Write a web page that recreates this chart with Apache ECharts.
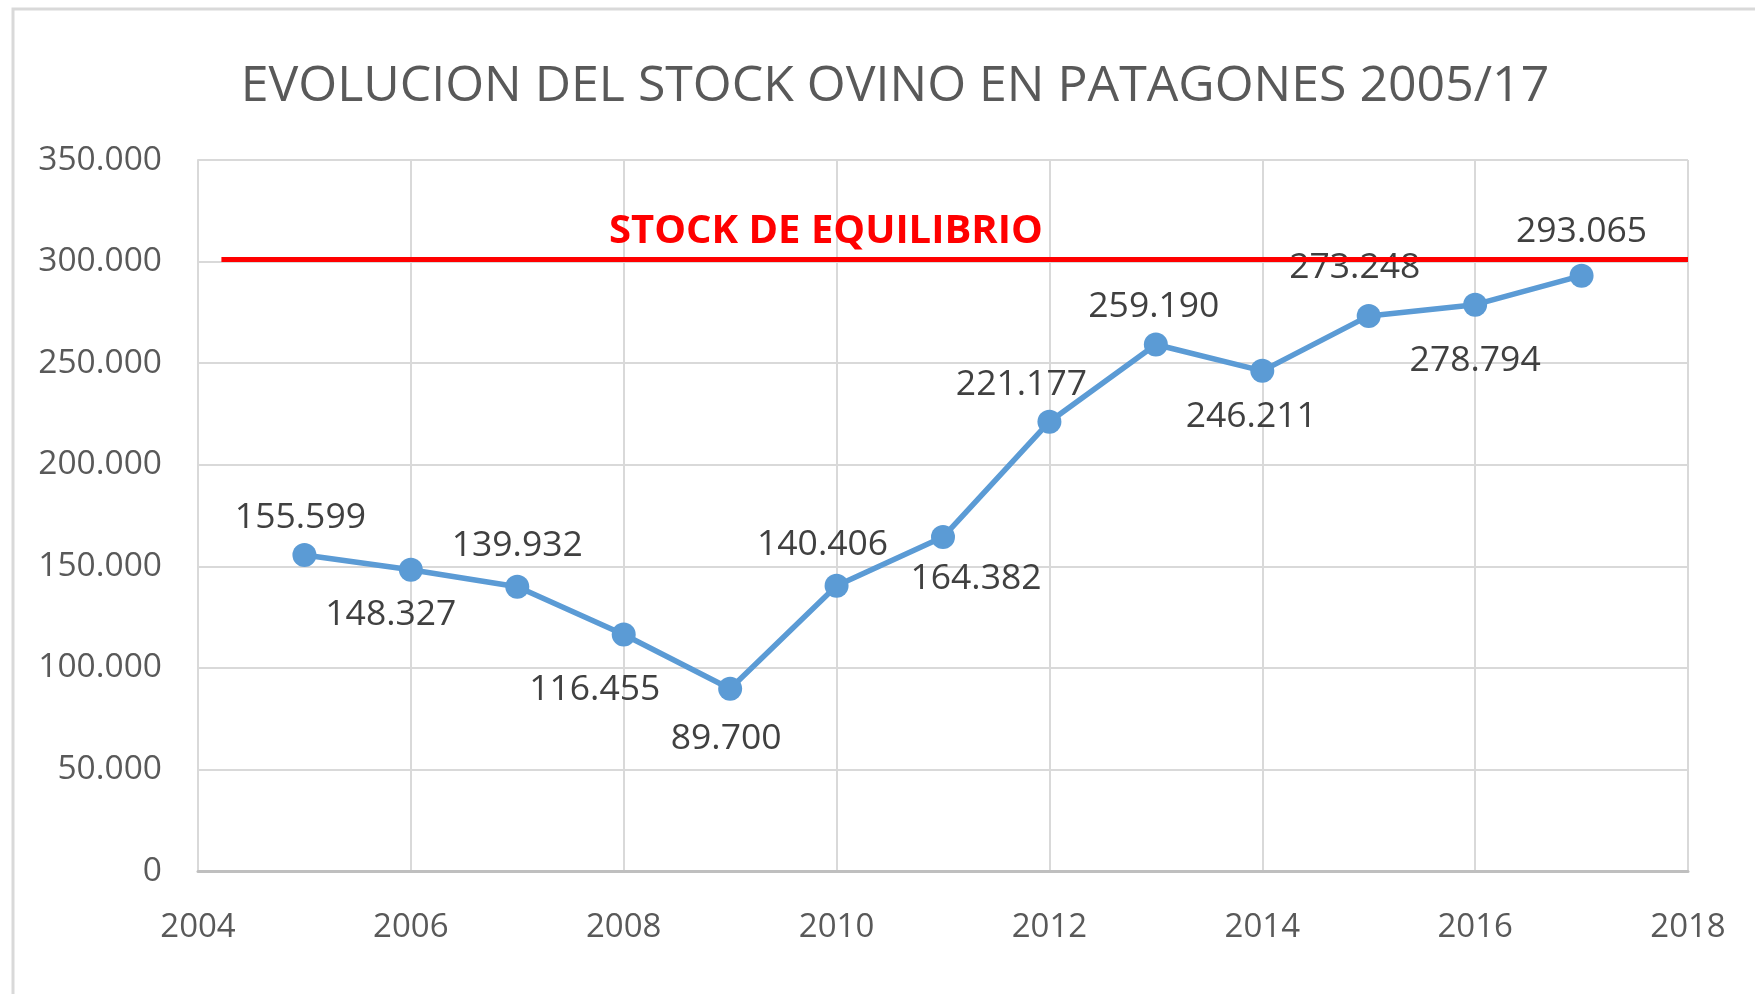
<!DOCTYPE html>
<html>
<head>
<meta charset="utf-8">
<script src="https://cdn.jsdelivr.net/npm/echarts@6/dist/echarts.min.js"></script>
<style>
  html, body { margin: 0; padding: 0; background: #fff; }
  #chart { width: 1755px; height: 994px; }
</style>
</head>
<body>
<div id="chart"></div>
<script>
const years = [2005, 2006, 2007, 2008, 2009, 2010, 2011, 2012, 2013, 2014, 2015, 2016, 2017]
const stock = [155599, 148327, 139932, 116455, 89700, 140406, 164382, 221177, 259190, 246211, 273248, 278794, 293065]
const equilibrium = 301000
const equilibriumLabel = 'STOCK DE EQUILIBRIO'
const titleText = 'EVOLUCION DEL STOCK OVINO EN PATAGONES 2005/17'

// label placement per point: side, then small [dx, dy] nudge in px
const labelSide = ['top', 'bottom', 'top', 'bottom', 'bottom', 'top', 'bottom', 'top', 'top', 'bottom', 'top', 'bottom', 'top']
const labelNudge = [[-4, 3], [-20, -3], [0, -1], [-29, 7], [-4, 2], [-14, -1], [33, -6], [-28, 3], [-2, 2], [-11, -2], [-14, -8], [0, 8], [0, -4]]

const FONT = '"Open Sans", sans-serif'

function fmtThousands(v) {
  return String(Math.round(v)).replace(/\B(?=(\d{3})+(?!\d))/g, '.')
}

const chart = echarts.init(document.getElementById('chart'))

chart.setOption({
  animation: false,
  title: {
    text: titleText,
    left: 890,
    top: 57,
    textAlign: 'center',
    textStyle: { fontFamily: FONT, fontWeight: 'normal', fontSize: 50, color: '#595959' }
  },
  graphic: [{
    type: 'rect',
    shape: { x: 13, y: 9, width: 1800, height: 1050 },
    style: { fill: 'none', stroke: '#d9d9d9', lineWidth: 3 },
    silent: true
  }],
  grid: { left: 198, right: 67, top: 160, bottom: 123 },
  xAxis: {
    type: 'value',
    min: 2004,
    max: 2018,
    interval: 2,
    axisLine: { show: true, onZero: false, lineStyle: { color: '#bfbfbf', width: 3 } },
    axisTick: { show: false },
    splitLine: { show: true, lineStyle: { color: '#d9d9d9', width: 2 } },
    axisLabel: { margin: 40, fontFamily: FONT, fontSize: 33, color: '#595959', formatter: (v) => String(v) }
  },
  yAxis: {
    type: 'value',
    min: 0,
    max: 350000,
    interval: 50000,
    axisLine: { show: true, lineStyle: { color: '#d9d9d9', width: 2 } },
    axisTick: { show: false },
    splitLine: { show: true, lineStyle: { color: '#d9d9d9', width: 2 } },
    axisLabel: { margin: 36, fontFamily: FONT, fontSize: 33.5, color: '#595959', formatter: fmtThousands }
  },
  series: [{
    type: 'line',
    data: years.map((y, i) => ({
      value: [y, stock[i]],
      label: {
        position: labelSide[i],
        distance: labelSide[i] === 'top' ? 10 : 18,
        offset: labelNudge[i]
      }
    })),
    symbol: 'circle',
    symbolSize: 24,
    itemStyle: { color: '#5b9bd5' },
    lineStyle: { color: '#5b9bd5', width: 5.5 },
    label: {
      show: true,
      fontFamily: FONT,
      fontSize: 35.5,
      color: '#404040',
      formatter: (p) => fmtThousands(p.value[1])
    },
    markLine: {
      silent: true,
      symbol: 'none',
      lineStyle: { color: '#ff0000', width: 5, type: 'solid' },
      label: { show: false },
      data: [[{ coord: [2004.22, equilibrium] }, { coord: [2018, equilibrium] }]]
    },
    markPoint: {
      silent: true,
      symbol: 'circle',
      symbolSize: 0,
      label: {
        show: true,
        position: 'top',
        distance: 8,
        formatter: equilibriumLabel,
        fontFamily: FONT,
        fontWeight: 'bold',
        fontSize: 40,
        color: '#ff0000'
      },
      data: [{ coord: [2009.9, equilibrium] }]
    },
    z: 3
  }]
})
</script>
</body>
</html>
